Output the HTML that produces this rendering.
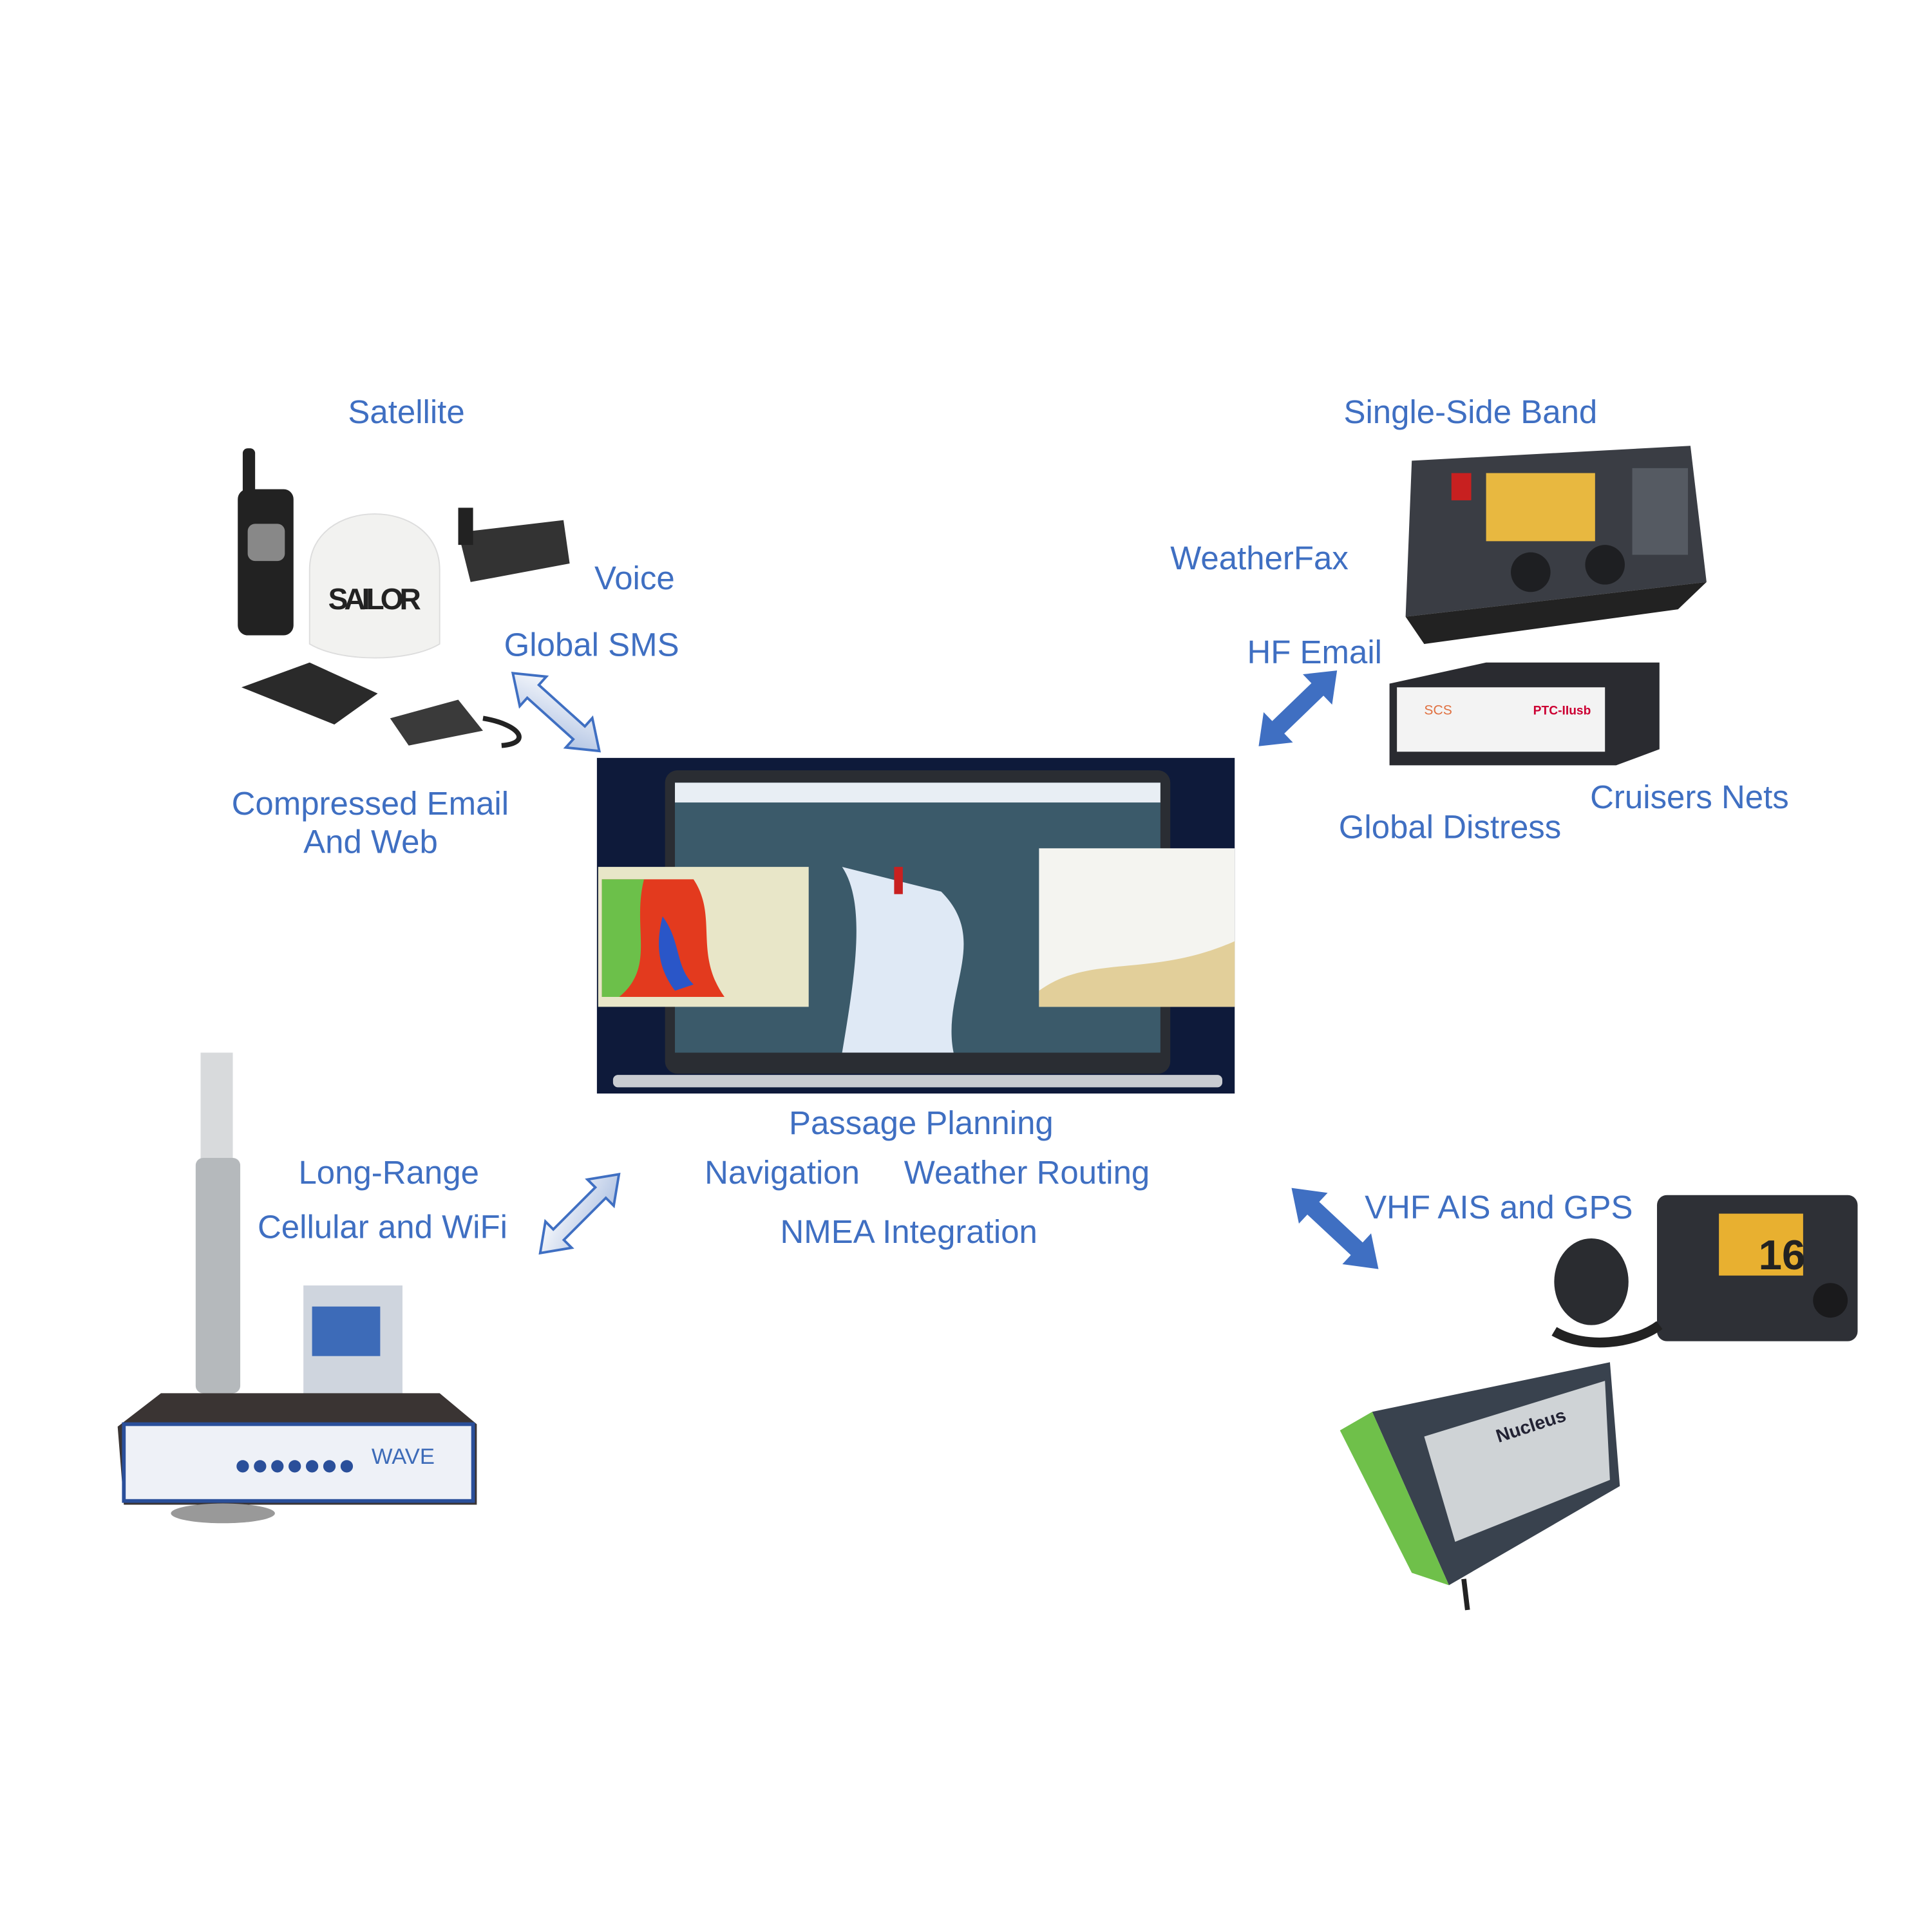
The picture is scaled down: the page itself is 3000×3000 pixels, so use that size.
<!DOCTYPE html>
<html><head><meta charset="utf-8"><style>
html,body{margin:0;padding:0;background:#fff;width:3000px;height:3000px;overflow:hidden}
#w{position:absolute;left:0;top:0;width:1560px;height:1560px;transform:scale(1.923);transform-origin:0 0}
.t{position:absolute;font-family:"Liberation Sans",sans-serif;color:#3f6fc2;font-size:26.5px;white-space:nowrap;line-height:1;transform:translateY(-50%)}
.b{position:absolute}
</style></head><body><div id="w">
<div class="t" style="left:281px;top:333px">Satellite</div>
<div class="t" style="left:480px;top:467px">Voice</div>
<div class="t" style="left:407px;top:521px">Global SMS</div>
<div class="t" style="left:187px;top:649px">Compressed Email</div>
<div class="t" style="left:245px;top:680px">And Web</div>
<div class="t" style="left:1085px;top:333px">Single-Side Band</div>
<div class="t" style="left:945px;top:451px">WeatherFax</div>
<div class="t" style="left:1007px;top:527px">HF Email</div>
<div class="t" style="left:1284px;top:644px">Cruisers Nets</div>
<div class="t" style="left:1081px;top:668px">Global Distress</div>
<div class="t" style="left:637px;top:907px">Passage Planning</div>
<div class="t" style="left:569px;top:947px">Navigation</div>
<div class="t" style="left:730px;top:947px">Weather Routing</div>
<div class="t" style="left:630px;top:995px">NMEA Integration</div>
<div class="t" style="left:241px;top:947px">Long-Range</div>
<div class="t" style="left:208px;top:991px">Cellular and WiFi</div>
<div class="t" style="left:1102px;top:975px">VHF AIS and GPS</div>

<svg class="b" style="left:0;top:0" width="1560" height="1560">
<defs><linearGradient id="g" x1="0" y1="0" x2="1" y2="1"><stop offset="0" stop-color="#fff"/><stop offset="1" stop-color="#a9bde0"/></linearGradient></defs>
<g transform="translate(449,575) rotate(42)"><polygon points="-47,0 -25,-16 -25,-7 25,-7 25,-16 47,0 25,16 25,7 -25,7 -25,16" fill="url(#g)" stroke="#3f6fc2" stroke-width="2"/></g>
<g transform="translate(468,980) rotate(-45)"><polygon points="-45,0 -24,-15 -24,-6 24,-6 24,-15 45,0 24,15 24,6 -24,6 -24,15" fill="url(#g)" stroke="#3f6fc2" stroke-width="2"/></g>
<g transform="translate(1048,572) rotate(-44)"><polygon points="-44,0 -22,-17 -22,-7 22,-7 22,-17 44,0 22,17 22,7 -22,7 -22,17" fill="#3f6fc2"/></g>
<g transform="translate(1078,992) rotate(43)"><polygon points="-48,0 -24,-17 -24,-7 24,-7 24,-17 48,0 24,17 24,7 -24,7 -24,17" fill="#3f6fc2"/></g>

<rect x="482" y="612" width="515" height="271" fill="#0e1a3a"/>
<rect x="537" y="622" width="408" height="245" rx="10" fill="#2a2d33"/>
<rect x="545" y="632" width="392" height="218" fill="#3b5a6a"/>
<rect x="545" y="632" width="392" height="16" fill="#e8eef4"/>
<path d="M680,700 C700,730 690,790 680,850 L770,850 C760,800 800,760 760,720 Z" fill="#dfe9f5"/>
<rect x="722" y="700" width="7" height="22" fill="#c82020"/>
<rect x="495" y="868" width="492" height="10" rx="4" fill="#c9ccd1"/>
<rect x="483" y="700" width="170" height="113" fill="#e8e6c8"/>
<path d="M486,710 L560,710 C580,740 560,770 585,805 L486,805Z" fill="#e33a1e"/>
<path d="M486,710 L520,710 C510,750 530,780 500,805 L486,805Z" fill="#6cc04a"/>
<path d="M535,740 C550,760 545,780 560,795 L545,800 C530,780 530,760 535,740Z" fill="#2a56c8"/>
<rect x="839" y="685" width="158" height="128" fill="#f4f4f0"/>
<path d="M839,800 C880,770 930,790 997,760 L997,813 L839,813Z" fill="#e2cf9a"/>

<rect x="192" y="395" width="45" height="118" rx="8" fill="#222"/>
<rect x="196" y="362" width="10" height="40" rx="4" fill="#222"/>
<rect x="200" y="423" width="30" height="30" rx="6" fill="#888"/>
<path d="M250,520 L250,460 C250,400 355,400 355,460 L355,520 C330,535 275,535 250,520Z" fill="#f2f2f0" stroke="#ddd"/>
<text x="265" y="492" font-family="Liberation Sans" font-weight="bold" font-size="24" fill="#222" textLength="75">SAILOR</text>
<path d="M370,430 L455,420 L460,455 L380,470Z" fill="#333"/>
<rect x="370" y="410" width="12" height="30" fill="#222"/>
<path d="M195,555 L250,535 L305,560 L270,585 Z" fill="#2a2a2a"/>
<path d="M315,580 L370,565 L390,590 L330,602Z" fill="#3a3a3a"/>
<path d="M390,580 C420,585 430,600 405,602" stroke="#222" stroke-width="4" fill="none"/>

<path d="M1140,372 L1365,360 L1378,470 L1135,498Z" fill="#3a3d44"/>
<path d="M1135,498 L1378,470 L1355,492 L1150,520Z" fill="#222"/>
<rect x="1200" y="382" width="88" height="55" fill="#e8b840"/>
<rect x="1172" y="382" width="16" height="22" fill="#c82020"/>
<circle cx="1236" cy="462" r="16" fill="#1e1f22"/><circle cx="1296" cy="456" r="16" fill="#1e1f22"/>
<rect x="1318" y="378" width="45" height="70" fill="#555a62"/>
<path d="M1122,552 L1200,535 L1340,535 L1340,605 L1305,618 L1122,618Z" fill="#2a2b30"/>
<rect x="1128" y="555" width="168" height="52" fill="#f3f3f3"/>
<text x="1150" y="577" font-family="Liberation Sans" font-size="11" fill="#e07040">SCS</text>
<text x="1238" y="577" font-family="Liberation Sans" font-size="10" font-weight="bold" fill="#c03">PTC-IIusb</text>

<rect x="1338" y="965" width="162" height="118" rx="8" fill="#2e3036"/>
<rect x="1388" y="980" width="68" height="50" fill="#e8b030"/>
<text x="1420" y="1025" font-family="Liberation Sans" font-weight="bold" font-size="34" fill="#222">16</text>
<circle cx="1478" cy="1050" r="14" fill="#1a1a1c"/>
<ellipse cx="1285" cy="1035" rx="30" ry="35" fill="#2a2c30"/>
<path d="M1255,1075 C1280,1090 1320,1085 1340,1070" stroke="#222" stroke-width="8" fill="none"/>
<path d="M1108,1140 L1300,1100 L1308,1200 L1170,1280 Z" fill="#39424e"/>
<path d="M1082,1155 L1108,1140 L1170,1280 L1140,1270Z" fill="#6fc04a"/>
<path d="M1150,1160 L1296,1115 L1300,1195 L1175,1245Z" fill="#cfd3d6"/>
<text x="1210" y="1165" font-family="Liberation Sans" font-weight="bold" font-size="15" fill="#223" transform="rotate(-18 1210 1165)">Nucleus</text>
<path d="M1182,1275 L1185,1300" stroke="#222" stroke-width="4"/>

<rect x="162" y="850" width="26" height="90" fill="#d8dadc"/>
<rect x="158" y="935" width="36" height="190" rx="6" fill="#b5b9bc"/>
<rect x="245" y="1038" width="80" height="88" fill="#cfd5de"/>
<rect x="252" y="1055" width="55" height="40" fill="#3d6bb8"/>
<path d="M95,1152 L130,1125 L355,1125 L385,1150 L385,1215 L100,1215Z" fill="#3a3433"/>
<rect x="100" y="1150" width="282" height="62" fill="#eef1f7" stroke="#2a4f9a" stroke-width="3"/>
<g fill="#2a4f9a"><circle cx="196" cy="1184" r="5"/><circle cx="210" cy="1184" r="5"/><circle cx="224" cy="1184" r="5"/><circle cx="238" cy="1184" r="5"/><circle cx="252" cy="1184" r="5"/><circle cx="266" cy="1184" r="5"/><circle cx="280" cy="1184" r="5"/></g>
<text x="300" y="1182" font-family="Liberation Sans" font-size="18" fill="#3d6bb8">WAVE</text>
<ellipse cx="180" cy="1222" rx="42" ry="8" fill="#999"/>
</svg>
</div></body></html>
